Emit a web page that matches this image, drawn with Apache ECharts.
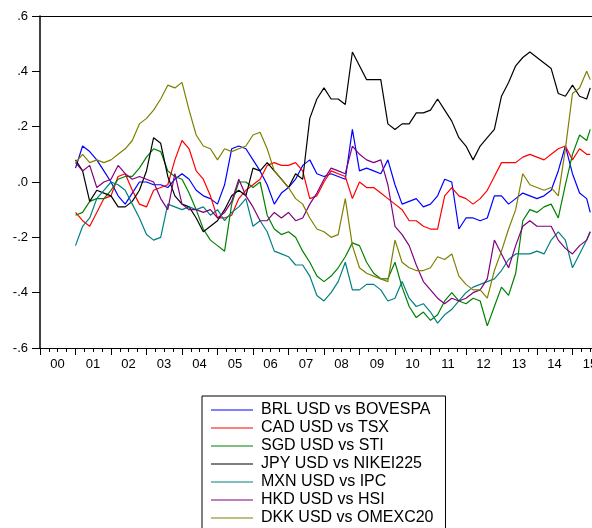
<!DOCTYPE html>
<html>
<head>
<meta charset="utf-8">
<script src="https://cdn.jsdelivr.net/npm/echarts@6/dist/echarts.min.js"></script>
<style>
  html,body{margin:0;padding:0;background:#fff;}
  #chart{width:592px;height:528px;}
</style>
</head>
<body>
<div id="chart"></div>
<script>
  // sample dates, decimal years
  const years = [
    2001.0,2001.2,2001.4,2001.6,2001.8,
    2002.0,2002.2,2002.4,2002.6,2002.8,
    2003.0,2003.2,2003.4,2003.6,2003.8,
    2004.0,2004.2,2004.4,2004.6,2004.8,
    2005.0,2005.2,2005.4,2005.6,2005.8,
    2006.0,2006.2,2006.4,2006.6,2006.8,
    2007.0,2007.2,2007.4,2007.6,2007.8,
    2008.0,2008.2,2008.4,2008.6,2008.8,
    2009.0,2009.2,2009.4,2009.6,2009.8,
    2010.0,2010.2,2010.4,2010.6,2010.8,
    2011.0,2011.2,2011.4,2011.6,2011.8,
    2012.0,2012.2,2012.4,2012.6,2012.8,
    2013.0,2013.2,2013.4,2013.6,2013.8,
    2014.0,2014.2,2014.4,2014.6,2014.8,
    2015.0,2015.2,2015.4,2015.5
  ];

  const brl = [.05,.13,.11,.08,.04, .00,-.05,-.08,-.04,.00, .00,-.01,-.01,-.02,.01, .03,.01,-.03,-.05,-.06,
    -.08,-.01,.12,.13,.12, .08,.04,-.01,-.08,-.04, -.02,.01,.06,.08,.03, .02,.03,.02,.01,.19,
    .04,.05,.04,.03,.08, -.01,-.08,-.07,-.06,-.09, -.08,-.05,.01,.00,-.17, -.13,-.13,-.14,-.13,-.05,
    -.05,-.08,-.06,-.04,-.05, -.06,-.05,-.03,.04,.13, .03,-.04,-.06,-.11];
  const cad = [-.11,-.14,-.16,-.11,-.06, -.05,.02,.03,-.03,-.08, -.09,-.03,-.02,-.01,.08, .15,.12,.04,.01,-.05,
    -.13,-.13,-.12,-.06,-.03, -.01,.01,.06,.07,.06, .06,.07,.04,-.06,-.05, .00,.04,.03,.02,-.06,
    .00,-.02,-.02,-.04,-.06, -.08,-.10,-.14,-.14,-.16, -.17,-.17,-.05,-.02,-.05, -.06,-.08,-.06,-.03,.02,
    .07,.07,.07,.09,.10, .09,.08,.10,.12,.13, .08,.12,.10,.10];
  const sgd = [-.12,-.11,-.07,-.06,-.06, -.03,.01,.02,.02,.05, .09,.12,.11,.04,.02, .01,-.04,-.10,-.17,-.21,
    -.23,-.25,-.08,.00,.00, -.02,.00,-.12,-.17,-.19, -.18,-.20,-.25,-.29,-.34, -.36,-.34,-.31,-.27,-.22,
    -.23,-.29,-.33,-.35,-.35, -.29,-.38,-.45,-.49,-.47, -.50,-.48,-.43,-.40,-.43, -.44,-.42,-.43,-.52,-.45,
    -.38,-.41,-.33,-.14,-.10, -.11,-.09,-.08,-.13,-.01, .10,.17,.15,.19];
  const jpy = [.08,.04,-.07,-.03,-.04, -.05,-.09,-.09,-.07,-.03, .04,.16,.14,.02,-.05, -.08,-.09,-.13,-.18,-.16,
    -.14,-.10,-.05,-.03,-.05, .05,.04,.07,.04,.01, -.02,.03,.01,.23,.30, .34,.30,.30,.28,.47,
    .42,.37,.37,.37,.21, .19,.21,.21,.25,.25, .26,.30,.26,.22,.16, .13,.08,.13,.16,.19,
    .31,.36,.42,.45,.47, .45,.43,.41,.32,.31, .35,.31,.30,.34];
  const mxn = [-.23,-.16,-.13,-.06,-.03, .00,-.01,-.03,-.08,-.13, -.19,-.21,-.20,-.08,-.09, -.10,-.09,-.10,-.09,-.12,
    -.10,-.14,-.11,-.09,-.06, -.16,-.14,-.18,-.25,-.26, -.27,-.30,-.30,-.34,-.41, -.43,-.40,-.36,-.29,-.39,
    -.39,-.37,-.37,-.39,-.43, -.42,-.36,-.42,-.45,-.44, -.47,-.51,-.48,-.46,-.43, -.40,-.38,-.37,-.36,-.35,
    -.32,-.28,-.26,-.26,-.26, -.25,-.26,-.21,-.18,-.21, -.31,-.26,-.21,-.18];
  const hkd = [.07,.04,.06,-.02,.00, .01,.06,.03,.01,.02, .01,.00,-.06,-.10,.03, -.08,-.10,-.10,-.11,-.10,
    -.13,-.11,-.07,.01,-.05, -.09,-.14,-.14,-.11,-.13, -.11,-.14,-.13,-.08,-.04, .01,.05,.04,.03,.13,
    .10,.08,.07,.08,-.01, -.16,-.19,-.23,-.30,-.36, -.39,-.42,-.44,-.42,-.43, -.42,-.40,-.39,-.35,-.21,
    -.26,-.31,-.23,-.16,-.14, -.16,-.16,-.16,-.21,-.24, -.26,-.23,-.21,-.18];
  const dkk = [.07,.10,.07,.08,.07, .08,.10,.12,.15,.21, .23,.26,.30,.35,.34, .36,.26,.17,.13,.12,
    .08,.12,.11,.12,.13, .17,.18,.12,.04,.01, -.02,-.06,-.08,-.13,-.17, -.18,-.20,-.19,-.06,-.23,
    -.31,-.33,-.34,-.35,-.36, -.21,-.29,-.31,-.32,-.32, -.31,-.27,-.28,-.26,-.34, -.37,-.39,-.39,-.42,-.32,
    -.25,-.17,-.10,.03,-.01, -.02,-.03,-.02,-.05,.12, .32,.34,.40,.37];

  const names = ['BRL USD vs BOVESPA','CAD USD vs TSX','SGD USD vs STI','JPY USD vs NIKEI225',
    'MXN USD vs IPC','HKD USD vs HSI','DKK USD vs OMEXC20'];
  const values = [brl, cad, sgd, jpy, mxn, hkd, dkk];
  const colors = ['#0000ff','#ff0000','#008000','#000000','#008080','#800080','#808000'];

  const font = 'Liberation Sans, Arial, sans-serif';
  let myChart = echarts.init(document.getElementById('chart'));

  let series = [];
  for (let i = 0; i < names.length; i++) {
    series.push({
      name: names[i],
      type: 'line',
      symbol: 'none',
      color: colors[i],
      lineStyle: {width: 1.2, color: colors[i]},
      data: years.map((y, j) => [y, values[i][j]])
    });
  }

  function yFmt(v) {
    if (Math.abs(v) < 1e-9) return '.0';
    let s = Math.abs(v).toFixed(1).replace('0.', '.');
    return (v < 0 ? '-' : '') + s;
  }

  let option = {
    animation: false,
    backgroundColor: '#fff',
    color: colors,
    grid: {left: 40, top: 16, right: 0, bottom: 180, outerBoundsMode: 'none', containLabel: false},
    legend: {
      data: names,
      orient: 'vertical',
      left: 202,
      top: 396,
      height: 160,
      icon: 'rect',
      itemWidth: 42,
      itemHeight: 1,
      itemGap: 2,
      padding: [6, 12, 6, 9],
      borderColor: '#000',
      borderWidth: 1,
      backgroundColor: '#fff',
      itemStyle: {borderWidth: 0},
      textStyle: {fontFamily: font, fontSize: 16, color: '#000', padding: [0, 0, 0, 3]}
    },
    xAxis: [{
      type: 'value',
      min: 2000,
      max: 2015.55,
      interval: 1,
      splitLine: {show: false},
      axisLine: {onZero: false, lineStyle: {color: '#000', width: 1}},
      axisTick: {length: 7, lineStyle: {color: '#000'}},
      minorTick: {show: true, splitNumber: 4, length: 4, lineStyle: {color: '#000'}},
      axisLabel: {
        margin: 10,
        showMaxLabel: false,
        formatter: v => '{a|' + String(Math.round(v) % 100).padStart(2, '0') + '}',
        rich: {a: {fontFamily: font, fontSize: 13, color: '#000', padding: [0, 0, 0, 35]}}
      }
    }, {
      type: 'value',
      position: 'top',
      min: 2000,
      max: 2015.55,
      axisLine: {show: true, onZero: false, lineStyle: {color: '#000', width: 1}},
      axisTick: {show: false},
      axisLabel: {show: false},
      splitLine: {show: false}
    }],
    yAxis: {
      type: 'value',
      min: -0.6,
      max: 0.6,
      interval: 0.2,
      splitLine: {show: false},
      axisLine: {show: true, onZero: false, lineStyle: {color: '#000', width: 1.5}},
      axisTick: {show: true, length: 8, lineStyle: {color: '#000'}},
      axisLabel: {margin: 12, formatter: yFmt, fontFamily: font, fontSize: 13, color: '#000'}
    },
    series: series
  };

  myChart.setOption(option);
</script>
</body>
</html>
